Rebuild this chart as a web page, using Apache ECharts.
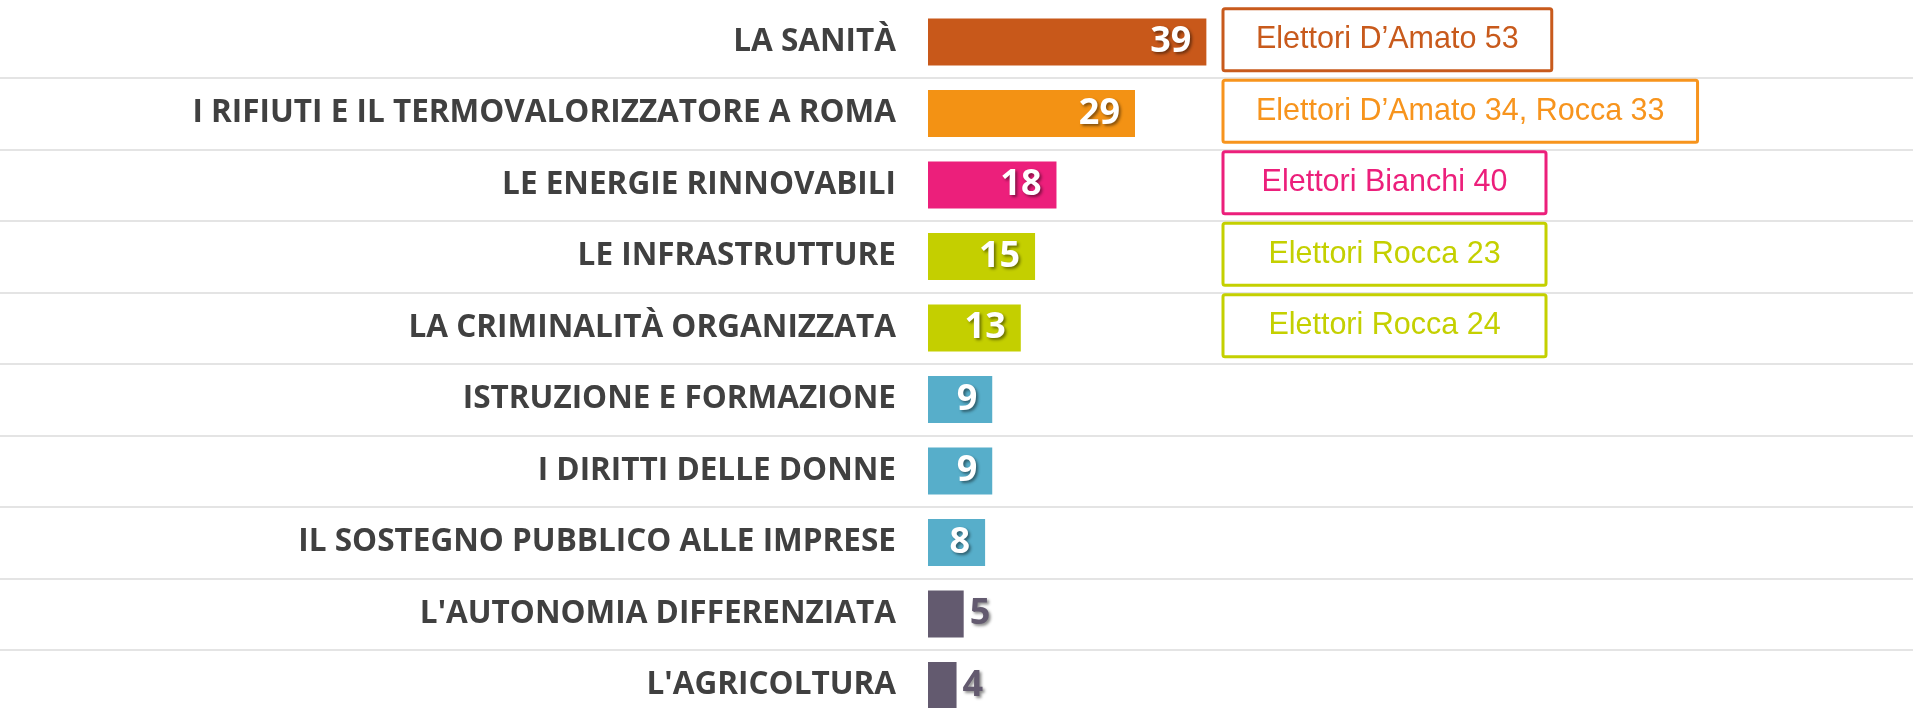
<!DOCTYPE html>
<html>
<head>
<meta charset="utf-8">
<title>Temi prioritari</title>
<script src="https://cdn.jsdelivr.net/npm/echarts@6/dist/echarts.min.js"></script>
<style>
  html, body { margin: 0; padding: 0; background: #fff; }
  #chart { width: 1913px; height: 708px; }
</style>
</head>
<body>
<div id="chart"></div>
<script>
// dati
const categories = [
  'LA SANITÀ',
  'I RIFIUTI E IL TERMOVALORIZZATORE A ROMA',
  'LE ENERGIE RINNOVABILI',
  'LE INFRASTRUTTURE',
  'LA CRIMINALITÀ ORGANIZZATA',
  'ISTRUZIONE E FORMAZIONE',
  'I DIRITTI DELLE DONNE',
  'IL SOSTEGNO PUBBLICO ALLE IMPRESE',
  "L'AUTONOMIA DIFFERENZIATA",
  "L'AGRICOLTURA"
];
const values = [39, 29, 18, 15, 13, 9, 9, 8, 5, 4];
const notes = [
  'Elettori D’Amato 53',
  'Elettori D’Amato 34, Rocca 33',
  'Elettori Bianchi 40',
  'Elettori Rocca 23',
  'Elettori Rocca 24'
];

// stile
const barColors = ['#C8581A', '#F39214', '#EC1F7B', '#C4CF00', '#C4CF00',
  '#57AECA', '#57AECA', '#57AECA', '#635A6F', '#635A6F'];
const noteColors = ['#C85A1C', '#F7941D', '#EC1F7B', '#C4D000', '#C4D000'];
const NOTE_X = 1223;
const NOTE_MIN_W = 323;
const NOTE_PAD = 33;
const NOTE_FONT = '30.5px "Liberation Sans"';

const ctx = document.createElement('canvas').getContext('2d');
function textWidth(str) {
  ctx.font = NOTE_FONT;
  return ctx.measureText(str).width;
}

const chart = echarts.init(document.getElementById('chart'));

chart.setOption({
  backgroundColor: '#fff',
  animation: false,
  grid: [
    { left: 928, right: 0, top: 6.25, height: 715, containLabel: false, outerBoundsMode: 'none' },
    { left: 0, right: 0, top: 6.25, height: 715, containLabel: false, outerBoundsMode: 'none' }
  ],
  xAxis: [
    { gridIndex: 0, type: 'value', min: 0, max: 138, show: false },
    { gridIndex: 1, type: 'value', min: 0, max: 1, show: false }
  ],
  yAxis: [
    {
      gridIndex: 0,
      type: 'category',
      inverse: true,
      data: categories,
      axisLine: { show: false },
      axisTick: { show: false },
      splitLine: { show: false },
      axisLabel: {
        margin: 32,
        color: '#404040',
        fontFamily: 'Open Sans',
        fontWeight: 'bold',
        fontSize: 31.5
      }
    },
    {
      gridIndex: 1,
      type: 'category',
      inverse: true,
      data: categories,
      axisLine: { show: false },
      axisTick: { show: false },
      axisLabel: { show: false },
      splitLine: {
        show: true,
        showMinLine: false,
        lineStyle: { color: '#E4E4E4', width: 2 }
      }
    }
  ],
  series: [
    {
      type: 'bar',
      xAxisIndex: 0,
      yAxisIndex: 0,
      barWidth: 47,
      z: 3,
      data: values.map(function (v, i) {
        const inside = v > 6;
        return {
          value: v,
          itemStyle: { color: barColors[i] },
          label: {
            show: true,
            position: inside ? 'insideRight' : 'right',
            distance: inside ? 15 : 6,
            color: inside ? '#fff' : barColors[i],
            fontFamily: 'Open Sans',
            fontWeight: 'bold',
            fontSize: 36,
            textShadowColor: 'rgba(0, 0, 0, 0.45)',
            textShadowBlur: 3,
            textShadowOffsetX: 2,
            textShadowOffsetY: 2
          }
        };
      })
    },
    {
      // riquadri con i commenti
      type: 'custom',
      xAxisIndex: 0,
      yAxisIndex: 0,
      clip: false,
      z: 4,
      data: notes.map(function (n, i) { return [0, i]; }),
      renderItem: function (params, api) {
        const cy = api.coord([0, api.value(1)])[1];
        const text = notes[params.dataIndex];
        const color = noteColors[params.dataIndex];
        const w = Math.max(NOTE_MIN_W, textWidth(text) + NOTE_PAD * 2);
        return {
          type: 'group',
          children: [
            {
              type: 'rect',
              shape: { x: NOTE_X, y: cy - 33.3, width: w, height: 62, r: 2 },
              style: { fill: '#fff', stroke: color, lineWidth: 3 }
            },
            {
              type: 'text',
              style: {
                x: NOTE_X + w / 2,
                y: cy - 2,
                text: text,
                fill: color,
                font: NOTE_FONT,
                align: 'center',
                verticalAlign: 'middle'
              }
            }
          ]
        };
      }
    }
  ]
});
</script>
</body>
</html>
